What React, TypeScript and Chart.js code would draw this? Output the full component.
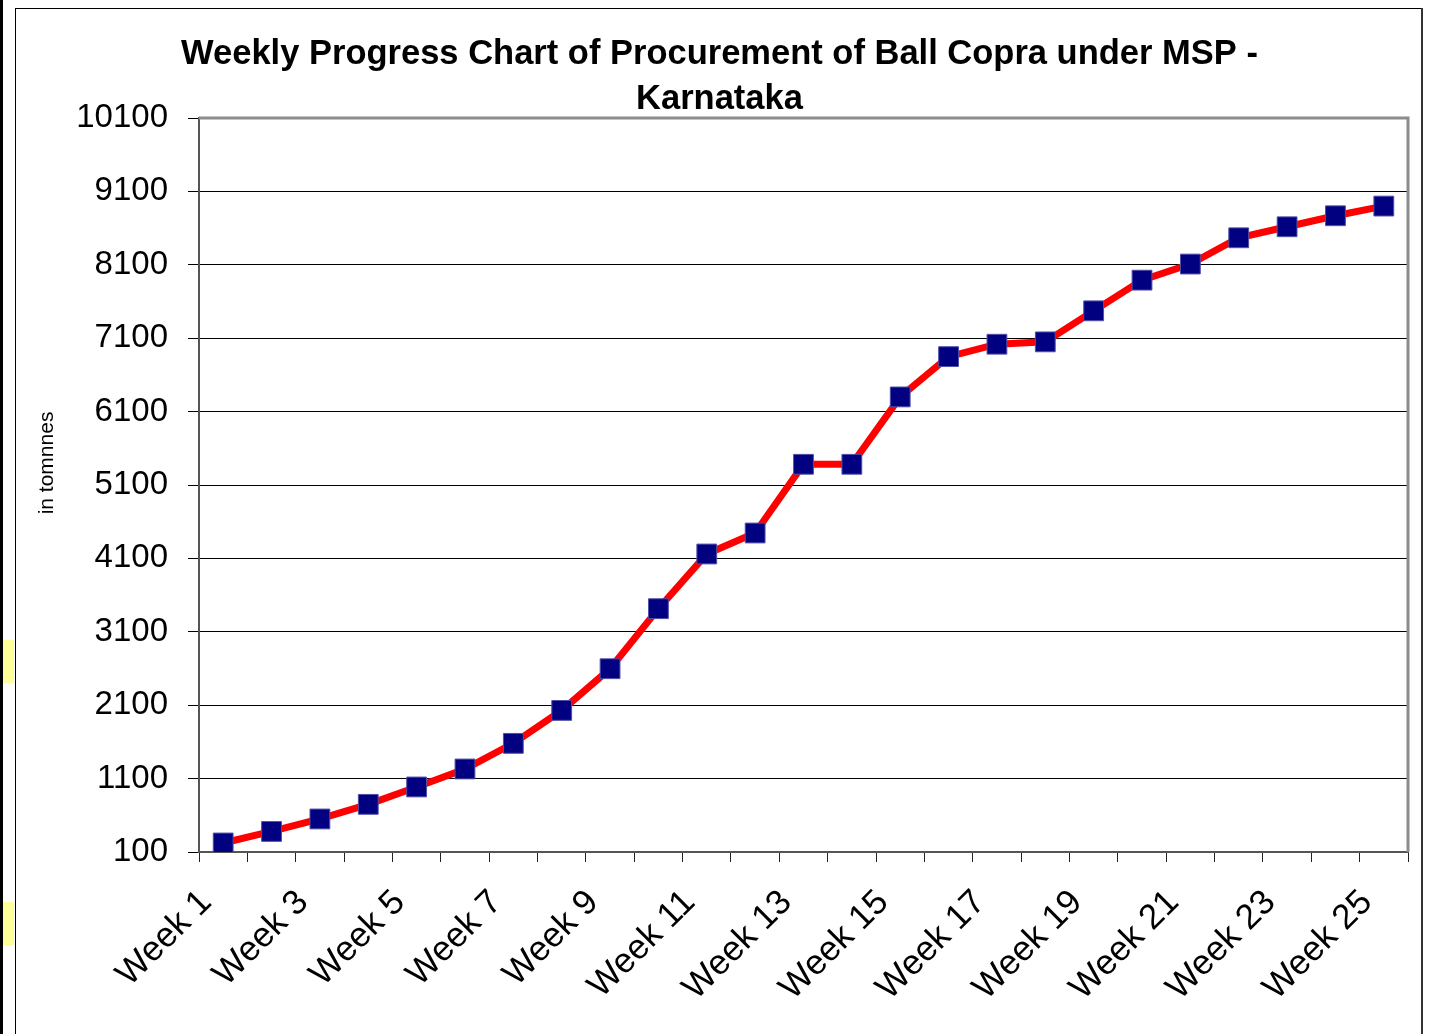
import React, { useEffect, useRef } from "react";
import { Chart, registerables } from "chart.js";

Chart.register(...registerables);

const weeks: string[] = [
  "Week 1", "Week 2", "Week 3", "Week 4", "Week 5", "Week 6", "Week 7", "Week 8", "Week 9",
  "Week 10", "Week 11", "Week 12", "Week 13", "Week 14", "Week 15", "Week 16", "Week 17",
  "Week 18", "Week 19", "Week 20", "Week 21", "Week 22", "Week 23", "Week 24", "Week 25",
];

const procurement: number[] = [
  223, 380, 550, 749, 986, 1231, 1580, 2029, 2597, 3415, 4160, 4446, 5382,
  5382, 6300, 6849, 7018, 7050, 7473, 7891, 8110, 8468, 8618, 8768, 8900,
];

const yMin = 100;
const yMax = 10100;
const yStep = 1000;

const titleLines: string[] = [
  "Weekly Progress Chart of Procurement of Ball Copra under MSP -",
  "Karnataka",
];
const yAxisTitle = "in tomnnes";

const FONT = "'Liberation Sans', Arial, Helvetica, sans-serif";

const framePlugin = {
  id: "plotFrame",
  beforeDatasetsDraw(chart: any) {
    const { ctx, chartArea } = chart;
    ctx.save();
    ctx.strokeStyle = "#8c8c8c";
    ctx.lineWidth = 3;
    ctx.beginPath();
    ctx.moveTo(chartArea.left, chartArea.top);
    ctx.lineTo(chartArea.right, chartArea.top);
    ctx.lineTo(chartArea.right, chartArea.bottom);
    ctx.stroke();
    ctx.restore();
  },
  afterDraw(chart: any) {
    const { ctx, chartArea } = chart;
    ctx.save();
    ctx.fillStyle = "#000";
    ctx.font = `21px ${FONT}`;
    ctx.textAlign = "center";
    ctx.textBaseline = "middle";
    const cy = chartArea.top + (chartArea.bottom - chartArea.top) * 0.47;
    ctx.translate(47, cy);
    ctx.rotate(-Math.PI / 2);
    ctx.fillText(yAxisTitle, 0, 0);
    ctx.restore();
  },
};

export default function App() {
  const canvasRef = useRef<HTMLCanvasElement | null>(null);

  useEffect(() => {
    if (!canvasRef.current) return;
    const chart = new Chart(canvasRef.current, {
      type: "line",
      data: {
        labels: weeks,
        datasets: [
          {
            label: "Procurement",
            data: procurement,
            borderColor: "#ff0000",
            borderWidth: 7,
            backgroundColor: "#000080",
            pointStyle: "rect",
            pointRadius: 14,
            pointHoverRadius: 14,
            pointBackgroundColor: "#000080",
            pointBorderColor: "#5050a8",
            pointBorderWidth: 1,
            tension: 0,
            fill: false,
          },
        ],
      },
      options: {
        animation: false,
        responsive: false,
        maintainAspectRatio: false,
        events: [],
        layout: { padding: { left: 3, right: 0, top: 0, bottom: 0 } },
        plugins: {
          legend: { display: false },
          tooltip: { enabled: false },
          title: {
            display: true,
            text: titleLines,
            color: "#000",
            font: { family: FONT, size: 34.5, weight: "bold", lineHeight: "45px" },
            padding: { top: 32, bottom: -4 },
          },
        },
        scales: {
          x: {
            type: "category",
            offset: true,
            afterFit(scale: any) {
              scale.height = 182;
              scale.paddingRight = 28;
              scale.paddingLeft = 0;
            },
            grid: {
              display: true,
              offset: true,
              drawOnChartArea: false,
              drawTicks: true,
              tickLength: 10,
              color: "#222",
              lineWidth: 1,
            },
            border: { display: true, color: "#555", width: 2 },
            ticks: {
              autoSkip: false,
              maxRotation: 45,
              minRotation: 45,
              padding: 20,
              labelOffset: -17,
              color: "#000",
              font: { family: FONT, size: 35 },
              callback(_v: any, idx: number) {
                return idx % 2 === 0 ? weeks[idx] : "";
              },
            },
          },
          y: {
            type: "linear",
            min: yMin,
            max: yMax,
            afterFit(scale: any) {
              scale.width = 196;
            },
            grid: {
              display: true,
              color: "#000",
              lineWidth: 1,
              drawTicks: true,
              tickLength: 11,
            },
            border: { display: true, color: "#555", width: 2 },
            ticks: {
              stepSize: yStep,
              padding: 20,
              color: "#000",
              font: { family: FONT, size: 33 },
              callback(v: any) {
                return String(v);
              },
            },
          },
        },
      },
      plugins: [framePlugin],
    });
    return () => chart.destroy();
  }, []);

  return (
    <div
      style={{
        position: "fixed",
        left: 0,
        top: 0,
        width: 1436,
        height: 1034,
        background: "#fff",
        overflow: "hidden",
      }}
    >
      <div style={{ position: "absolute", left: 0, top: 0, width: 3, height: 1034, background: "#000" }} />
      <div style={{ position: "absolute", left: 3, top: 640, width: 11, height: 43, background: "#ffff99" }} />
      <div style={{ position: "absolute", left: 3, top: 902, width: 11, height: 43, background: "#ffff99" }} />
      <div style={{ position: "absolute", left: 15, top: 8, width: 1, height: 1026, background: "#000" }} />
      <div style={{ position: "absolute", left: 15, top: 8, width: 1408, height: 1, background: "#000" }} />
      <div style={{ position: "absolute", left: 1421, top: 8, width: 2, height: 1026, background: "#333" }} />
      <canvas
        ref={canvasRef}
        width={1436}
        height={1034}
        style={{ position: "absolute", left: 0, top: 0, width: 1436, height: 1034 }}
      />
    </div>
  );
}
